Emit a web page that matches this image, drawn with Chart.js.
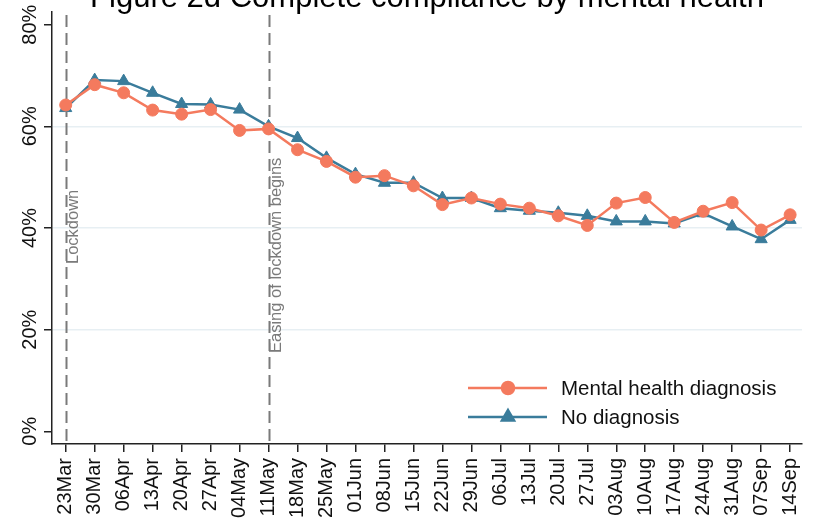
<!DOCTYPE html>
<html>
<head>
<meta charset="utf-8">
<script src="https://cdn.jsdelivr.net/npm/chart.js@4"></script>
<style>
  html, body { margin: 0; padding: 0; background: #fff; }
  #wrap { width: 814px; height: 521px; }
</style>
</head>
<body>
<div id="wrap"><canvas id="myChart" width="814" height="521"></canvas></div>
<script>
var weeks = ["23Mar", "30Mar", "06Apr", "13Apr", "20Apr", "27Apr", "04May", "11May", "18May",
  "25May", "01Jun", "08Jun", "15Jun", "22Jun", "29Jun", "06Jul", "13Jul", "20Jul", "27Jul",
  "03Aug", "10Aug", "17Aug", "24Aug", "31Aug", "07Sep", "14Sep"];
var mentalHealth = [64.2, 68.2, 66.6, 63.2, 62.4, 63.3, 59.2, 59.5, 55.4, 53.1, 50.0, 50.3, 48.3,
  44.6, 45.9, 44.7, 43.9, 42.4, 40.5, 44.9, 46.0, 41.1, 43.3, 45.0, 39.6, 42.6];
var noDiagnosis = [63.6, 69.1, 68.9, 66.6, 64.4, 64.3, 63.3, 60.0, 57.7, 53.8, 50.6, 48.9, 48.9,
  45.9, 45.9, 43.9, 43.4, 43.0, 42.4, 41.3, 41.3, 40.9, 42.9, 40.3, 37.8, 41.6];
var yTicks = [0, 20, 40, 60, 80];
var gridTicks = [20, 40, 60];
var events = [
  { week: "23Mar", text: "Lockdown" },
  { week: "11May", text: "Easing of lockdown begins" }
];
var titleText = "Figure 2d Complete compliance by mental health";

var FONT = "'Liberation Sans', Arial, sans-serif";
var orange = '#f47a5e';
var blue = '#3a7c9b';

function pts(arr) {
  return arr.map(function (v, i) { return { x: i, y: v }; });
}

var extras = {
  id: 'extras',
  beforeDatasetsDraw: function (chart) {
    var ctx = chart.ctx, x = chart.scales.x, area = chart.chartArea;
    // dashed event lines
    ctx.save();
    ctx.strokeStyle = '#7a7a7a';
    ctx.lineWidth = 2;
    ctx.setLineDash([12, 6]);
    events.forEach(function (e) {
      var px = Math.round(x.getPixelForValue(weeks.indexOf(e.week))) + 0.5;
      ctx.beginPath();
      ctx.moveTo(px, area.top + 3);
      ctx.lineTo(px, area.bottom);
      ctx.stroke();
    });
    ctx.restore();
    // event notes
    var noteY = [264, 353];
    ctx.save();
    ctx.fillStyle = '#7a7a7a';
    ctx.font = '16.5px ' + FONT;
    ctx.textAlign = 'left';
    ctx.textBaseline = 'alphabetic';
    events.forEach(function (e, k) {
      var px = x.getPixelForValue(weeks.indexOf(e.week));
      ctx.save();
      ctx.translate(px + 12.5, noteY[k]);
      ctx.rotate(-Math.PI / 2);
      ctx.fillText(e.text, 0, 0);
      ctx.restore();
    });
    ctx.restore();
  },
  afterDraw: function (chart) {
    var ctx = chart.ctx, y = chart.scales.y;
    // y tick labels, rotated
    ctx.save();
    ctx.fillStyle = '#111';
    ctx.font = '20px ' + FONT;
    ctx.textAlign = 'center';
    ctx.textBaseline = 'alphabetic';
    yTicks.forEach(function (t) {
      ctx.save();
      ctx.translate(36, y.getPixelForValue(t));
      ctx.rotate(-Math.PI / 2);
      ctx.fillText(t + '%', 0, 0);
      ctx.restore();
    });
    ctx.restore();
    // title, cut at the top
    ctx.save();
    ctx.fillStyle = '#000';
    ctx.font = '31px ' + FONT;
    ctx.textAlign = 'center';
    ctx.textBaseline = 'alphabetic';
    ctx.fillText(titleText, (chart.chartArea.left + chart.chartArea.right) / 2, 7);
    ctx.restore();
    // legend
    ctx.save();
    var rows = [388, 417];
    chart.data.datasets.forEach(function (ds, k) {
      var ly = rows[k];
      ctx.strokeStyle = ds.borderColor;
      ctx.lineWidth = ds.borderWidth;
      ctx.beginPath();
      ctx.moveTo(468, ly);
      ctx.lineTo(547, ly);
      ctx.stroke();
      ctx.fillStyle = ds.pointBackgroundColor;
      ctx.strokeStyle = ds.pointBackgroundColor;
      Chart.helpers.drawPoint(ctx, {
        pointStyle: ds.pointStyle, radius: ds.pointRadius, borderWidth: 1, rotation: 0
      }, 508, ly);
      ctx.fillStyle = '#111';
      ctx.font = '20.5px ' + FONT;
      ctx.textAlign = 'left';
      ctx.textBaseline = 'middle';
      ctx.fillText(ds.label, 561, ly + 1);
    });
    ctx.restore();
  }
};

var options = {
  type: 'line',
  data: {
    datasets: [
      {
        label: 'Mental health diagnosis',
        data: pts(mentalHealth),
        borderColor: orange,
        backgroundColor: orange,
        borderWidth: 2.5,
        pointStyle: 'circle',
        pointRadius: 6,
        pointBackgroundColor: orange,
        pointBorderColor: orange,
        pointBorderWidth: 1,
        tension: 0
      },
      {
        label: 'No diagnosis',
        data: pts(noDiagnosis),
        borderColor: blue,
        backgroundColor: blue,
        borderWidth: 2.5,
        pointStyle: 'triangle',
        pointRadius: 7,
        pointBackgroundColor: blue,
        pointBorderColor: blue,
        pointBorderWidth: 1,
        tension: 0
      }
    ]
  },
  options: {
    responsive: false,
    animation: false,
    layout: { padding: { top: 12, right: 12, left: 0, bottom: 0 } },
    scales: {
      x: {
        type: 'linear',
        min: -0.473,
        max: 25.41,
        afterBuildTicks: function (s) {
          s.ticks = weeks.map(function (w, i) { return { value: i }; });
        },
        afterFit: function (s) {
          s.height = 77;
          s.paddingLeft = 0;
          s.paddingRight = 0;
        },
        grid: {
          drawOnChartArea: false,
          tickLength: 8,
          tickColor: '#222',
          lineWidth: 1.5
        },
        border: { color: '#222', width: 1.5 },
        ticks: {
          autoSkip: false,
          minRotation: 90,
          maxRotation: 90,
          padding: 6,
          color: '#111',
          font: { family: FONT, size: 20 },
          callback: function (v) { return weeks[v]; }
        }
      },
      y: {
        min: -2.5,
        max: 82.5,
        afterBuildTicks: function (s) {
          s.ticks = yTicks.map(function (t) { return { value: t }; });
        },
        afterFit: function (s) {
          s.width = 52;
          s.paddingTop = 0;
          s.paddingBottom = 0;
        },
        grid: {
          color: function (c) {
            return c.tick && gridTicks.indexOf(c.tick.value) >= 0 ? '#e7eff3' : 'rgba(0,0,0,0)';
          },
          lineWidth: 1.5,
          tickLength: 8,
          tickColor: '#222'
        },
        border: { color: '#222', width: 1.5 },
        ticks: { display: false }
      }
    },
    plugins: {
      legend: { display: false },
      tooltip: { enabled: false }
    }
  },
  plugins: [extras]
};

var ctx = document.getElementById('myChart').getContext('2d');
new Chart(ctx, options);
</script>
</body>
</html>
